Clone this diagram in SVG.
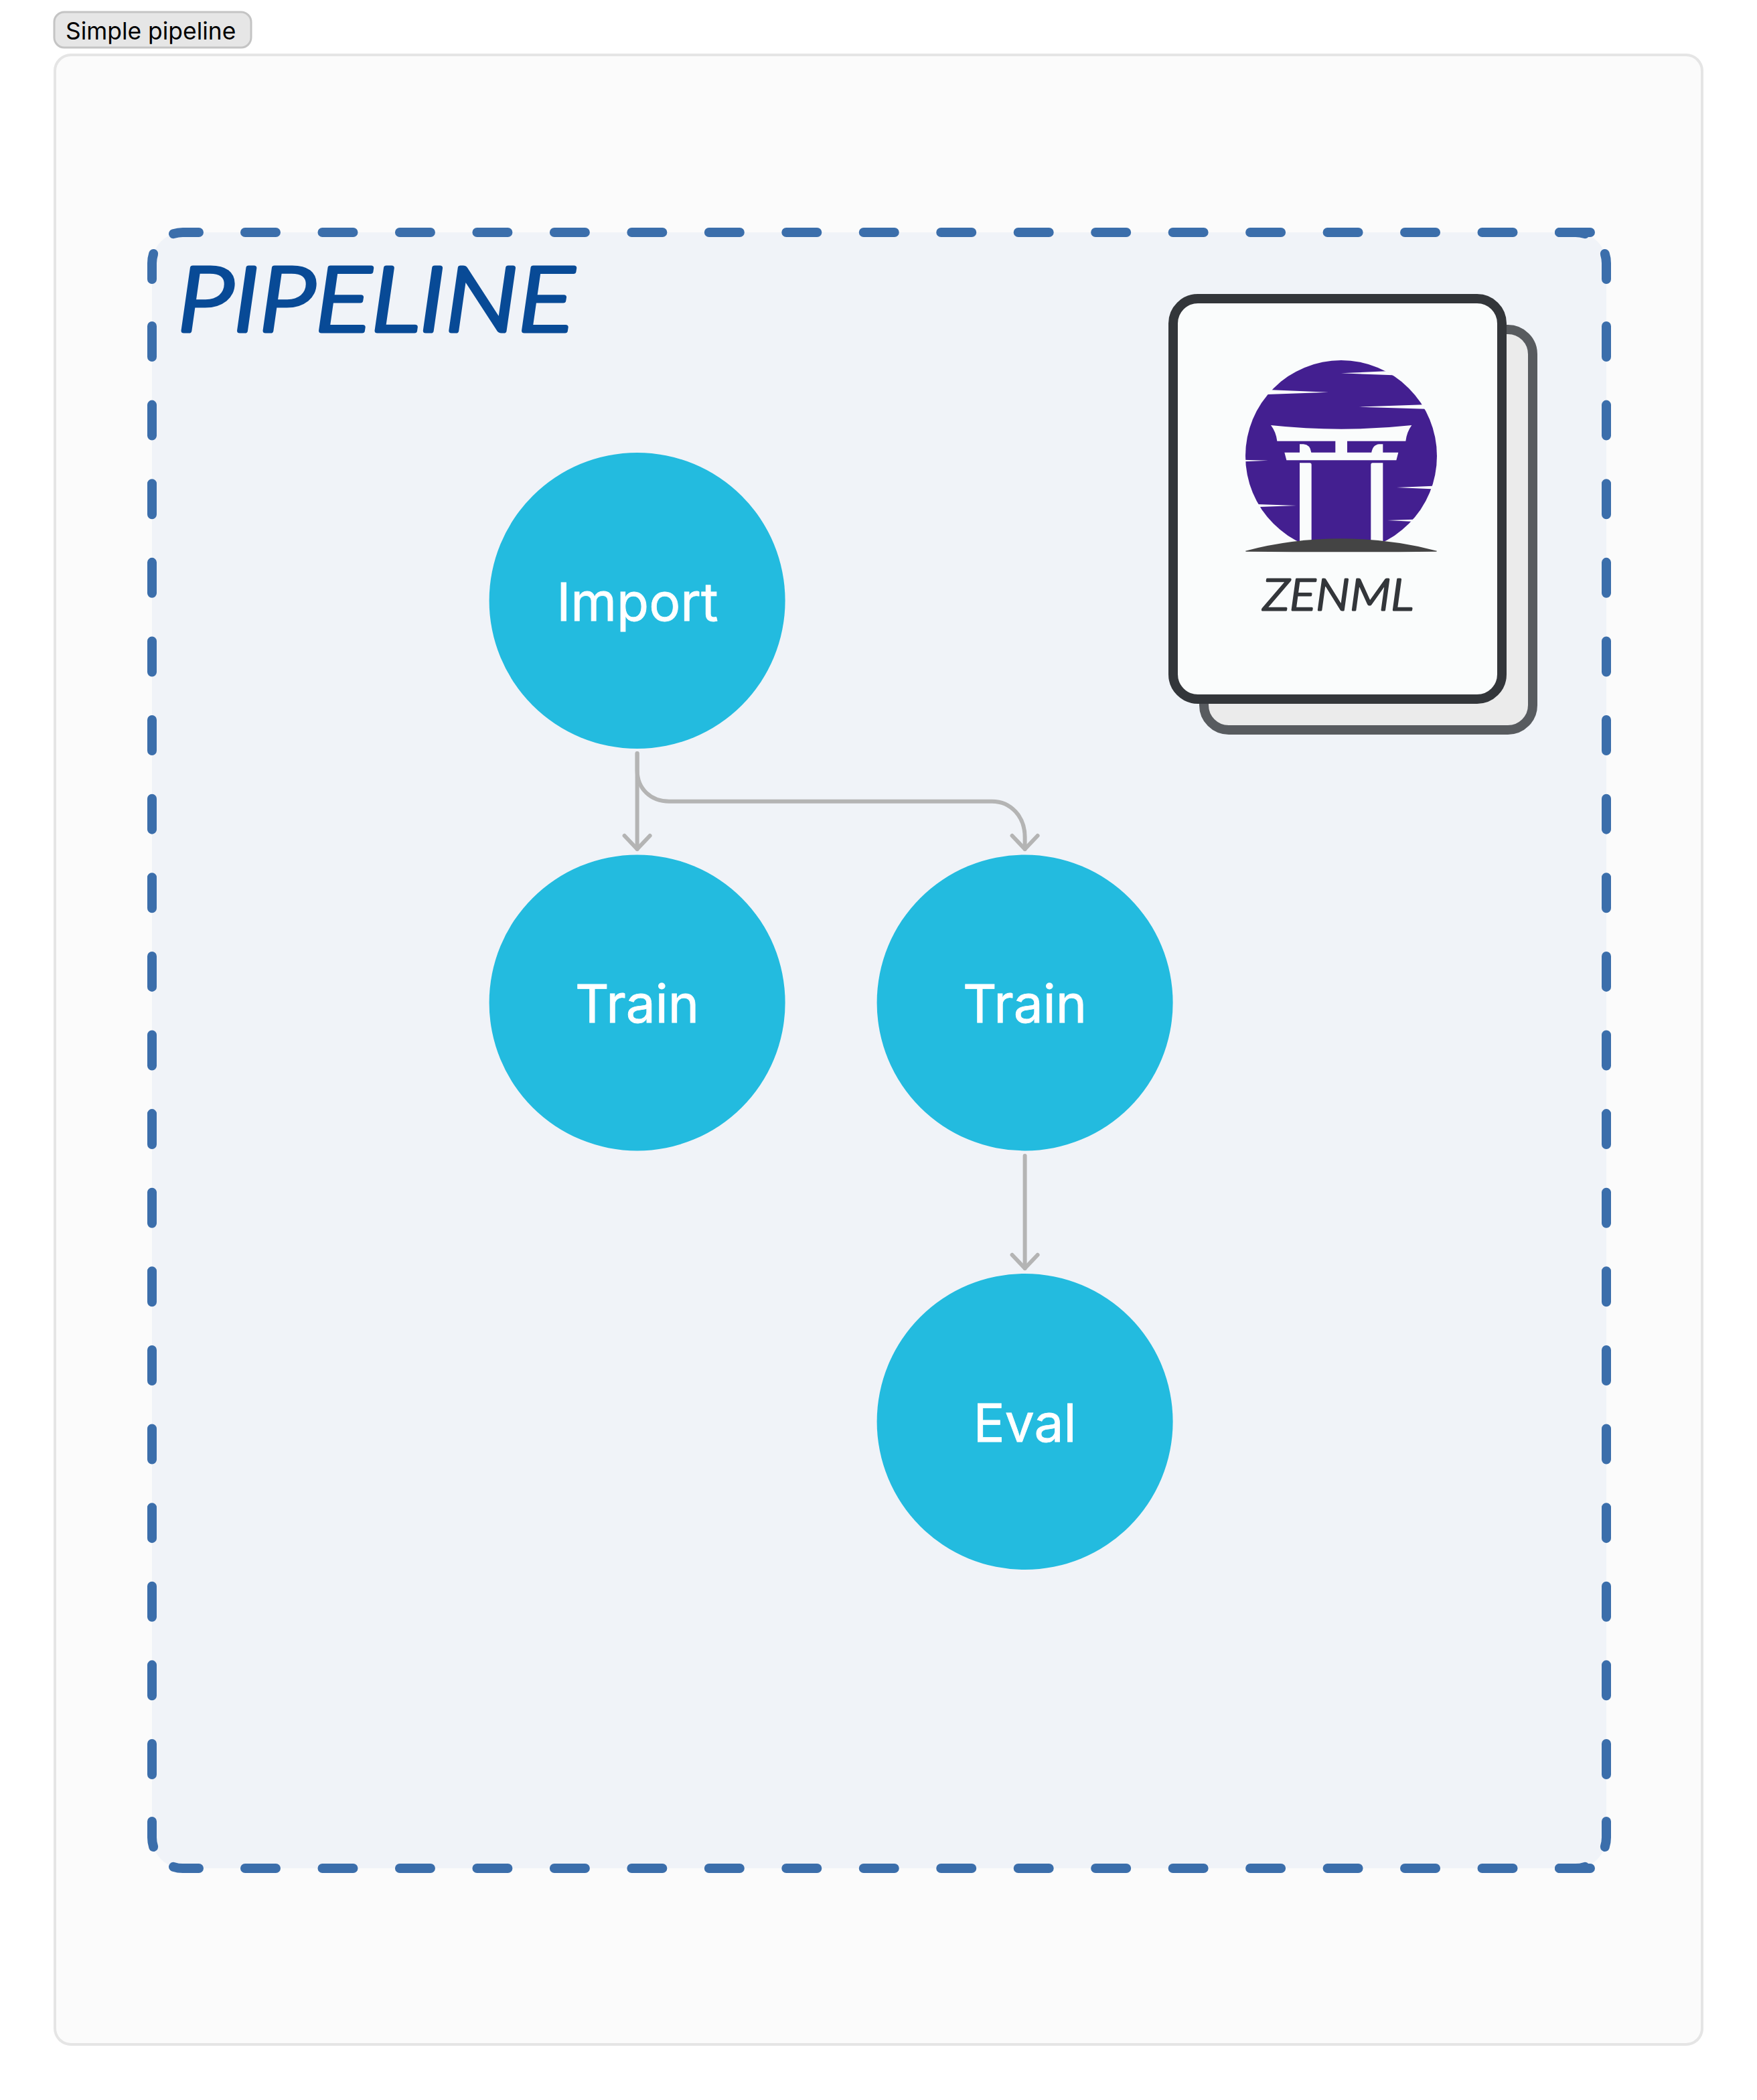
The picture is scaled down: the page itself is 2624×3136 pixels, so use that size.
<svg xmlns="http://www.w3.org/2000/svg" width="2624" height="3136" viewBox="0 0 2624 3136">
<style>
.step{fill:#23BBDF}
.lbl{font-family:Inter,"Liberation Sans",sans-serif;font-size:78.5px;font-weight:400;fill:#fff;stroke:#fff;stroke-width:.8;text-anchor:middle}
.edge{fill:none;stroke:#B4B4B4;stroke-width:6;stroke-linecap:round;marker-end:url(#arrow)}
.dash{fill:none;stroke:#3B6EAB;stroke-width:14;stroke-linecap:round}
.hd{stroke-dasharray:46 69.47}
.vd{stroke-dasharray:46 71.61}
.cut{fill:#FAFCFC}
</style>
<defs>
<marker id="arrow" markerUnits="userSpaceOnUse" markerWidth="60" markerHeight="60" refX="30" refY="40" orient="auto" viewBox="0 0 60 60" overflow="visible">
<path d="M11 20 L30 40 L49 20" transform="rotate(-90 30 40)" fill="none" stroke="#B4B4B4" stroke-width="6" stroke-linecap="round" stroke-linejoin="round"/>
</marker>
</defs>
<rect width="2624" height="3136" fill="#fff"/>
<g id="button">
<rect x="81" y="18" width="294" height="53" rx="15" fill="#E6E6E6" stroke="#C4C4C4" stroke-width="3"/>
<text x="98" y="59" font-family="Inter,'Liberation Sans',sans-serif" font-size="35.4" fill="#000">Simple pipeline</text>
</g>
<rect id="panel" x="82" y="82" width="2460" height="2971" rx="24" fill="#FBFBFB" stroke="#E5E5E5" stroke-width="4"/>
<g id="pipeline">
<rect x="227" y="347" width="2172" height="2443" rx="46" fill="#F0F3F8"/>
<path class="dash hd" d="M366 347H2376"/>
<path class="dash hd" d="M366 2790H2376"/>
<path class="dash vd" d="M227 487V2652"/>
<path class="dash vd" d="M2399 487V2652"/>
<path class="dash" d="M297 347H273A46 46 0 0 0 259 349.2"/>
<path class="dash" d="M2329 347H2353A46 46 0 0 1 2367 349.2"/>
<path class="dash" d="M297 2790H273A46 46 0 0 1 259 2787.8"/>
<path class="dash" d="M2329 2790H2353A46 46 0 0 0 2367 2787.8"/>
<path class="dash" d="M227 417V393A46 46 0 0 1 229.2 379"/>
<path class="dash" d="M2399 417V393A46 46 0 0 0 2396.8 379"/>
<path class="dash" d="M227 2720V2744A46 46 0 0 0 229.2 2758"/>
<path class="dash" d="M2399 2720V2744A46 46 0 0 1 2396.8 2758"/>
<text x="265" y="494" font-family="Lato,'Liberation Sans',sans-serif" font-style="italic" font-weight="300" font-size="133" fill="#084A96" stroke="#084A96" stroke-width="7" stroke-linejoin="round" textLength="592" lengthAdjust="spacingAndGlyphs">PIPELINE</text>
</g>
<g id="zenml">
<rect x="1798" y="492" width="491" height="598" rx="37" fill="#EBEBEB" stroke="#585B5F" stroke-width="14"/>
<rect x="1752" y="446" width="491" height="598" rx="37" fill="#FAFCFC" stroke="#33363A" stroke-width="14"/>
<g transform="translate(1840 520) scale(.33333)">
<circle cx="489" cy="483" r="429" fill="#431F90"/>
<path class="cut" d="M489 112L690 103L722 121ZM432 197L176 187L158 207ZM568 263L858 252.5L870 272ZM50 500L162 503L50 508ZM112 699L288 705L122 711ZM738 624L900 617L895 631ZM696 771L814 767L802 776Z"/>
<path class="cut" d="M174 345Q330 362 490 362T805 345Q783 375 778 416H516V467H745L736 502H244L235 467H303V430H320Q350 432 355 467H463V416H202Q197 375 174 345Z"/>
<path class="cut" d="M516 472H624Q629 432 660 430H676V472Z"/>
<path class="cut" d="M303 514H348Q356 514 356 522V870H303ZM676 514H630Q622 514 622 522V870H676Z"/>
<path d="M60 908Q270 853 489 853T918 908L916 911Q489 915 62 911Z" fill="#444"/>
</g>
<text x="1886" y="911" font-family="Lato,'Liberation Sans',sans-serif" font-style="italic" font-weight="300" font-size="65" fill="#33363A" stroke="#33363A" stroke-width="3" stroke-linejoin="round" textLength="225" lengthAdjust="spacingAndGlyphs">ZENML</text>
</g>
<g id="connectors">
<path class="edge" d="M951.6 1125V1268"/>
<path class="edge" d="M951.6 1125V1150C951.6 1178 972 1196.7 999.4 1196.7H1481.5C1510 1196.7 1530.6 1220 1530.6 1250V1268"/>
<path class="edge" d="M1530.6 1726V1894"/>
</g>
<g id="import"><circle class="step" cx="951.6" cy="897" r="221"/><text class="lbl" x="952" y="927">Import</text></g>
<g id="train-a"><circle class="step" cx="951.6" cy="1497.4" r="221"/><text class="lbl" x="951.6" y="1527">Train</text></g>
<g id="train-b"><circle class="step" cx="1530.6" cy="1497.4" r="221"/><text class="lbl" x="1530.6" y="1527">Train</text></g>
<g id="eval"><circle class="step" cx="1530.6" cy="2123" r="221"/><text class="lbl" x="1530.6" y="2153">Eval</text></g>
</svg>
